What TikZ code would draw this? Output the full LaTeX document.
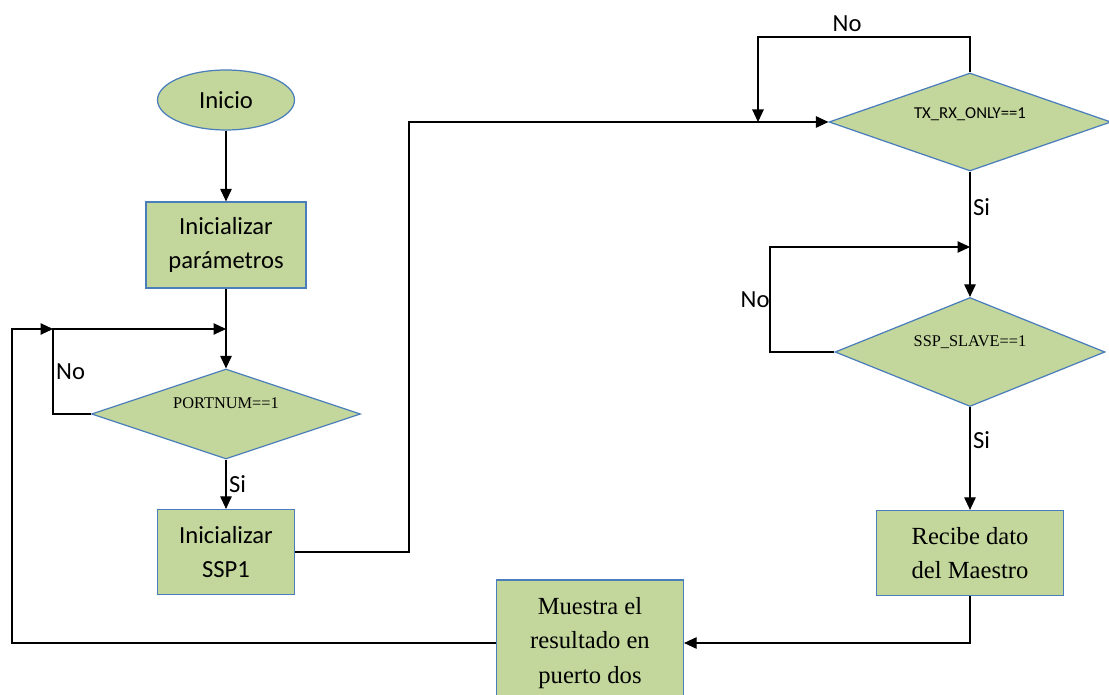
\documentclass[tikz,border=0pt]{standalone}
\usepackage{fontspec}
\setmainfont{Liberation Serif}
\setsansfont{Carlito}
\usetikzlibrary{shapes.geometric, arrows.meta, positioning}
\definecolor{boxgreen}{HTML}{C3D69B}
\definecolor{boxblue}{HTML}{4A7EBB}
\newcommand{\uptext}[2]{\raisebox{#1}{#2}}

\begin{document}
\begin{tikzpicture}[
                x = 0.02cm, y = -0.02cm,
                every node/.style={align=center, inner sep=1pt},
                sanstext/.style={font=\sffamily\fontsize{14}{19}\selectfont},
                seriftext/.style={font=\fontsize{14}{19.5}\selectfont},
                startstop/.style={ellipse, draw=boxblue, line width=0.7pt, fill=boxgreen, minimum width=2.74cm, minimum height=1.2cm, sanstext},
                process/.style={rectangle, draw=boxblue, line width=0.7pt, fill=boxgreen, minimum height=1.7cm},
                decision/.style={diamond, aspect=3, draw=boxblue, line width=0.7pt, fill=boxgreen, font=\fontsize{9.3}{11}\selectfont},
                tag/.style={sanstext, inner sep=1.5pt},
                line/.style={-{Triangle[length=0.25cm, width=0.23cm]}, line width=0.6pt}
            ]
            \useasboundingbox (0,0) rectangle (1109,695);

            % left column
            \node[startstop] (inicio) at (226,100) {Inicio};
            \node[process, sanstext, minimum width=3.2cm, minimum height=1.72cm] (param) at (226,245) {Inicializar\\parámetros};
            \node[decision, minimum width=5.38cm, minimum height=1.8cm] (portnum) at (226,414) {\uptext{0.44cm}{PORTNUM==1}};
            \node[process, sanstext, minimum width=2.74cm] (ssp1) at (226,552) {Inicializar\\SSP1};

            % right column
            \node[decision, minimum width=5.64cm, minimum height=1.96cm, font=\sffamily\fontsize{9.5}{11}\selectfont] (txrx) at (970,122) {\uptext{0.36cm}{TX\_RX\_ONLY==1}};
            \node[decision, minimum width=5.4cm, minimum height=2.18cm] (slave) at (970,352) {\uptext{0.44cm}{SSP\_SLAVE==1}};
            \node[process, seriftext, minimum width=3.74cm] (recibe) at (970,553) {Recibe dato\\del Maestro};
            \node[process, seriftext, minimum width=3.74cm, minimum height=2.52cm] (muestra) at (590,643) {Muestra el\\resultado en\\puerto dos};

            % bends and junctions
            \coordinate (jleft) at (53,329);
            \coordinate (jtop) at (226,329);
            \coordinate (outer) at (12,329);
            \coordinate (bend) at (409,122);
            \coordinate (txno) at (758,37);
            \coordinate (txret) at (758,122);
            \coordinate (slvno) at (770,247);
            \coordinate (slvret) at (970,247);

            \draw[line] (inicio) -- (param);
            \draw[line] (param) -- (portnum);
            \draw[line] (portnum.west) -| node[tag, pos=0.75, right] {No} (jleft) -- (jtop);
            \draw[line] (portnum) -- node[tag, right] {Si} (ssp1);
            \draw[line] (ssp1.east) -| (bend) -- (txrx.west);
            \draw[line] (txrx.north) |- node[tag, pos=0.79, above, inner sep=2.5pt] {No} (txno) -- (txret);
            \draw[line] (txrx) -- node[tag, pos=0.28, right] {Si} (slave);
            \draw[line] (slave.west) -| node[tag, pos=0.75, left, inner sep=0pt] {No} (slvno) -- (slvret);
            \draw[line] (slave) -- node[tag, pos=0.32, right] {Si} (recibe);
            \draw[line] (recibe.south) |- (muestra.east);
            \draw[line] (muestra.west) -| (outer) -- (jleft);
        \end{tikzpicture}
\end{document}
